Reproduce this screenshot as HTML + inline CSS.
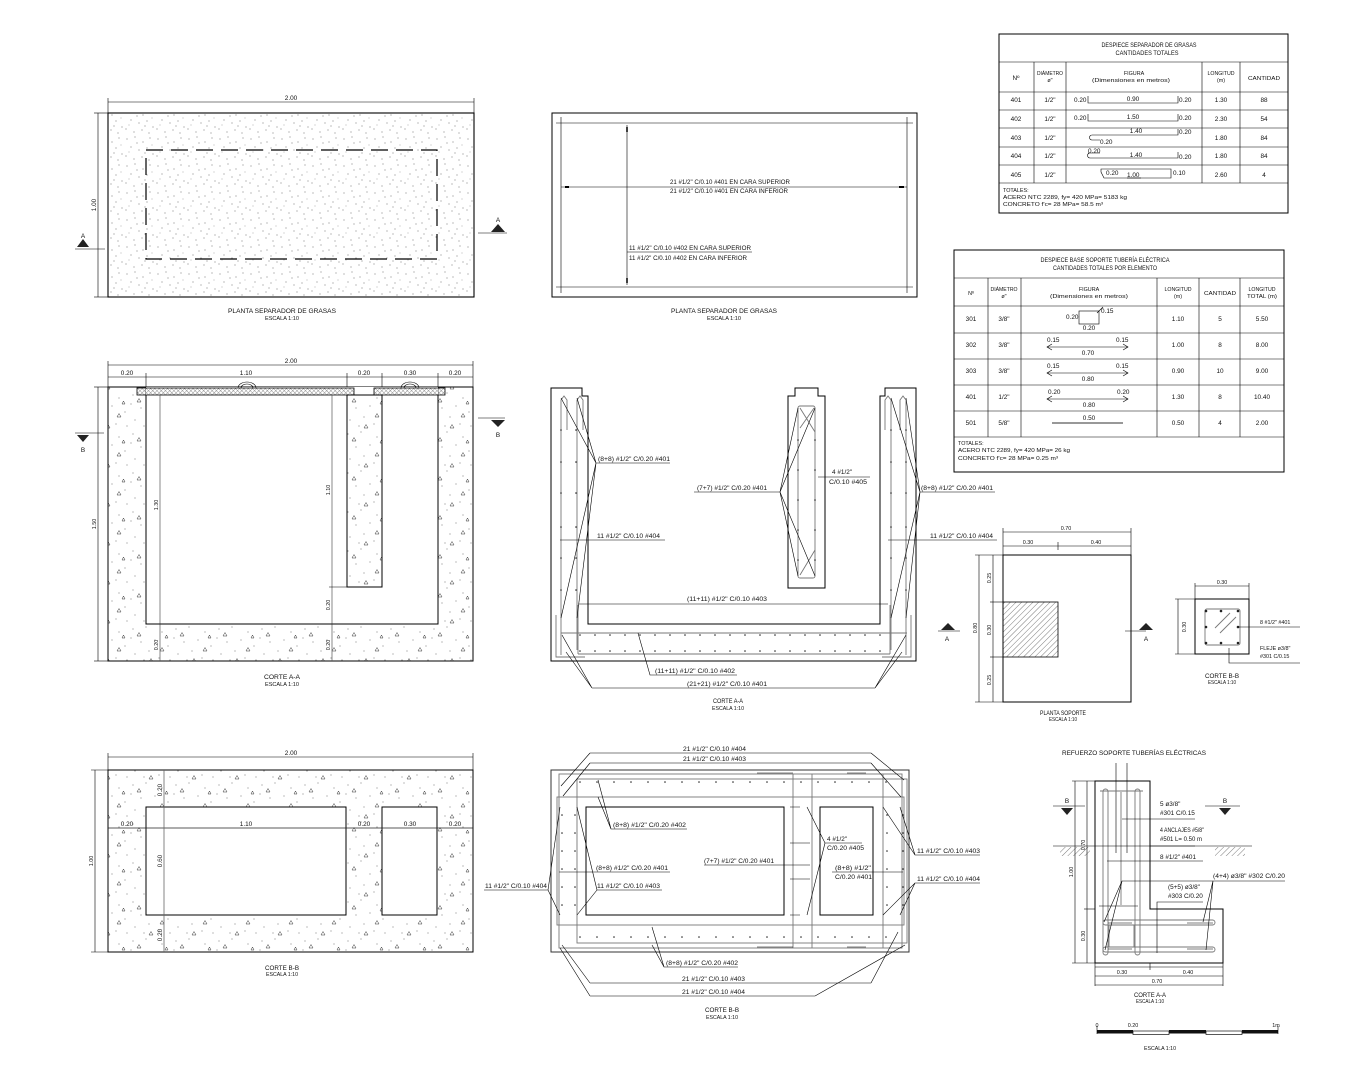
<!DOCTYPE html>
<html><head><meta charset="utf-8">
<style>
html,body{margin:0;padding:0;background:#fff;}
svg{display:block;}
text{font-family:"Liberation Sans",sans-serif;font-size:6.4px;fill:#111;}
.s{font-size:5.4px;}
.m{text-anchor:middle;}
.k{stroke:#000;stroke-width:1;fill:none;}
.t{stroke:#000;stroke-width:0.6;fill:none;}
.g{stroke:#777;stroke-width:0.9;fill:none;}
.d{fill:#222;}
</style></head><body>
<svg width="1350" height="1080" viewBox="0 0 1350 1080" xmlns="http://www.w3.org/2000/svg">
<defs>
<pattern id="st" width="31" height="27" patternUnits="userSpaceOnUse">
<g fill="#555">
<circle cx="3" cy="4" r="0.5"/><circle cx="11" cy="2" r="0.5"/><circle cx="19" cy="7" r="0.5"/><circle cx="26" cy="3" r="0.5"/>
<circle cx="7" cy="12" r="0.5"/><circle cx="15" cy="15" r="0.5"/><circle cx="23" cy="13" r="0.5"/><circle cx="29" cy="19" r="0.5"/>
<circle cx="2" cy="21" r="0.5"/><circle cx="10" cy="24" r="0.5"/><circle cx="18" cy="22" r="0.5"/><circle cx="25" cy="25" r="0.5"/>
<circle cx="13" cy="8" r="0.5"/><circle cx="21" cy="18" r="0.5"/><circle cx="5" cy="17" r="0.4"/><circle cx="28" cy="10" r="0.4"/>
</g></pattern>
<pattern id="cc" width="43" height="39" patternUnits="userSpaceOnUse">
<g fill="#555">
<circle cx="4" cy="5" r="0.5"/><circle cx="17" cy="3" r="0.5"/><circle cx="33" cy="8" r="0.5"/><circle cx="12" cy="18" r="0.5"/>
<circle cx="26" cy="16" r="0.5"/><circle cx="39" cy="22" r="0.5"/><circle cx="6" cy="30" r="0.5"/><circle cx="20" cy="27" r="0.5"/>
<circle cx="30" cy="34" r="0.5"/><circle cx="41" cy="36" r="0.5"/><circle cx="15" cy="36" r="0.5"/><circle cx="2" cy="14" r="0.5"/>
</g>
<g stroke="#333" stroke-width="0.5" fill="none">
<path d="M8,12 l2,-3.5 l2,3.5 z"/><path d="M31,27 l2,-3.5 l2,3.5 z"/><path d="M20,38 l2,-3.5 l2,3.5 z"/><path d="M36,14 l1.5,-3 l1.5,3 z"/>
</g></pattern>
<pattern id="hx" width="4" height="4" patternUnits="userSpaceOnUse" patternTransform="rotate(45)"><line x1="0" y1="0" x2="0" y2="4" stroke="#222" stroke-width="0.6"/></pattern>
<pattern id="hc" width="3" height="3" patternUnits="userSpaceOnUse" patternTransform="rotate(45)"><line x1="0" y1="0" x2="0" y2="3" stroke="#666" stroke-width="0.7"/><line x1="0" y1="0" x2="3" y2="0" stroke="#666" stroke-width="0.7"/></pattern>
</defs>

<!-- ================= TOP-LEFT PLAN ================= -->
<line class="t" x1="108" y1="102" x2="474" y2="102"/>
<line class="t" x1="108" y1="98" x2="108" y2="113"/><line class="t" x1="474" y1="98" x2="474" y2="113"/>
<text class="m" x="291" y="100">2.00</text>
<line class="t" x1="98" y1="113" x2="98" y2="297"/>
<line class="t" x1="94" y1="113" x2="108" y2="113"/><line class="t" x1="94" y1="297" x2="108" y2="297"/>
<text class="m" transform="translate(96,205) rotate(-90)">1.00</text>
<rect x="108" y="113" width="366" height="184" fill="url(#st)" stroke="#000" stroke-width="1.1"/>
<rect x="146" y="150" width="291" height="109" fill="none" stroke="#000" stroke-width="1.2" stroke-dasharray="17,8"/>
<text class="m" x="83" y="238">A</text>
<path d="M77,247 L83,239 L89,247 Z" class="d"/>
<line class="t" x1="75" y1="249" x2="105" y2="249"/>
<text class="m" x="498" y="222">A</text>
<path d="M491,232 L498,224 L505,232 Z" class="d"/>
<line class="t" x1="478" y1="233" x2="507" y2="233"/>
<text class="m" x="282" y="313" textLength="108" lengthAdjust="spacingAndGlyphs">PLANTA SEPARADOR DE GRASAS</text>
<text class="m s" x="282" y="320" textLength="34" lengthAdjust="spacingAndGlyphs">ESCALA 1:10</text>

<!-- ================= TOP-MIDDLE PLAN ================= -->
<rect x="552" y="113" width="365" height="184" class="k"/>
<line class="t" x1="556" y1="123" x2="913" y2="123"/>
<line class="t" x1="556" y1="287" x2="913" y2="287"/>
<line class="t" x1="561" y1="117" x2="561" y2="293"/>
<line class="t" x1="907" y1="117" x2="907" y2="293"/>
<line class="t" x1="561" y1="187" x2="907" y2="187"/>
<line stroke="#000" stroke-width="2" x1="565" y1="187" x2="569" y2="187"/>
<line stroke="#000" stroke-width="2" x1="899" y1="187" x2="904" y2="187"/>
<line class="t" x1="627" y1="125" x2="627" y2="285"/>
<line stroke="#000" stroke-width="1.5" x1="627" y1="127" x2="627" y2="132"/>
<line stroke="#000" stroke-width="1.5" x1="627" y1="278" x2="627" y2="283"/>
<text x="670" y="184" textLength="120" lengthAdjust="spacingAndGlyphs">21 #1/2" C/0.10 #401 EN CARA SUPERIOR</text>
<text x="670" y="193" textLength="118" lengthAdjust="spacingAndGlyphs">21 #1/2" C/0.10 #401 EN CARA INFERIOR</text>
<text x="629" y="250" textLength="122" lengthAdjust="spacingAndGlyphs">11 #1/2" C/0.10 #402 EN CARA SUPERIOR</text>
<line class="t" x1="627" y1="252" x2="752" y2="252"/>
<text x="629" y="260" textLength="118" lengthAdjust="spacingAndGlyphs">11 #1/2" C/0.10 #402 EN CARA INFERIOR</text>
<text class="m" x="724" y="313" textLength="106" lengthAdjust="spacingAndGlyphs">PLANTA SEPARADOR DE GRASAS</text>
<text class="m s" x="724" y="320" textLength="34" lengthAdjust="spacingAndGlyphs">ESCALA 1:10</text>

<!-- ================= TABLE 1 ================= -->
<rect x="999" y="34" width="289" height="179" class="k"/>
<g class="t">
<line x1="999" y1="62" x2="1288" y2="62"/>
<line x1="999" y1="92" x2="1288" y2="92"/>
<line x1="999" y1="110" x2="1288" y2="110"/>
<line x1="999" y1="128" x2="1288" y2="128"/>
<line x1="999" y1="147" x2="1288" y2="147"/>
<line x1="999" y1="165" x2="1288" y2="165"/>
<line x1="999" y1="183" x2="1288" y2="183"/>
<line x1="1034" y1="62" x2="1034" y2="183"/>
<line x1="1066" y1="62" x2="1066" y2="183"/>
<line x1="1202" y1="62" x2="1202" y2="183"/>
<line x1="1240" y1="62" x2="1240" y2="183"/>
</g>
<text class="m" x="1149" y="47" textLength="95" lengthAdjust="spacingAndGlyphs">DESPIECE SEPARADOR DE GRASAS</text>
<text class="m" x="1147" y="55" textLength="63" lengthAdjust="spacingAndGlyphs">CANTIDADES TOTALES</text>
<text class="m" x="1016" y="80">Nº</text>
<text class="m s" x="1050" y="75" textLength="26" lengthAdjust="spacingAndGlyphs">DIÁMETRO</text>
<text class="m s" x="1050" y="82">ø"</text>
<text class="m s" x="1134" y="75">FIGURA</text>
<text class="m s" x="1131" y="82" textLength="78" lengthAdjust="spacingAndGlyphs">(Dimensiones en metros)</text>
<text class="m s" x="1221" y="75" textLength="27" lengthAdjust="spacingAndGlyphs">LONGITUD</text>
<text class="m s" x="1221" y="82">(m)</text>
<text class="m s" x="1264" y="80" textLength="32" lengthAdjust="spacingAndGlyphs">CANTIDAD</text>
<g class="s">
<text class="m" x="1016" y="102">401</text><text class="m" x="1050" y="102">1/2"</text><text class="m" x="1221" y="102">1.30</text><text class="m" x="1264" y="102">88</text>
<text class="m" x="1016" y="121">402</text><text class="m" x="1050" y="121">1/2"</text><text class="m" x="1221" y="121">2.30</text><text class="m" x="1264" y="121">54</text>
<text class="m" x="1016" y="140">403</text><text class="m" x="1050" y="140">1/2"</text><text class="m" x="1221" y="140">1.80</text><text class="m" x="1264" y="140">84</text>
<text class="m" x="1016" y="158">404</text><text class="m" x="1050" y="158">1/2"</text><text class="m" x="1221" y="158">1.80</text><text class="m" x="1264" y="158">84</text>
<text class="m" x="1016" y="177">405</text><text class="m" x="1050" y="177">1/2"</text><text class="m" x="1221" y="177">2.60</text><text class="m" x="1264" y="177">4</text>
<text x="1074" y="102">0.20</text><text class="m" x="1133" y="101">0.90</text><text x="1179" y="102">0.20</text>
<text x="1074" y="120">0.20</text><text class="m" x="1133" y="119">1.50</text><text x="1179" y="120">0.20</text>
<text class="m" x="1136" y="133">1.40</text><text x="1179" y="134">0.20</text><text x="1100" y="144">0.20</text>
<text x="1088" y="153">0.20</text><text class="m" x="1136" y="157">1.40</text><text x="1179" y="159">0.20</text>
<text x="1106" y="175">0.20</text><text x="1127" y="177">1.00</text><text x="1173" y="175">0.10</text>
</g>
<path class="t" d="M1088,96 V103 H1178 V96"/>
<path class="t" d="M1088,114 V121 H1178 V114"/>
<path class="t" d="M1178,129 V135 H1092 a2.5,2.5 0 0 0 0,5 H1100"/>
<path class="t" d="M1088,153 H1100 M1090,153 a2.5,2.5 0 0 0 0,5 H1178 V152"/>
<path class="t" d="M1101,169 H1171 V178 H1104 L1101,172 Z"/>
<line class="t" x1="1127" y1="178" x2="1141" y2="178"/>
<text class="s" x="1003" y="192">TOTALES:</text>
<text class="s" x="1003" y="199" textLength="124" lengthAdjust="spacingAndGlyphs">ACERO NTC 2289, fy= 420 MPa= 5183 kg</text>
<text class="s" x="1003" y="206" textLength="100" lengthAdjust="spacingAndGlyphs">CONCRETO f'c= 28 MPa= 58.5 m³</text>

<!-- ================= TABLE 2 ================= -->
<rect x="954" y="250" width="330" height="222" class="k"/>
<g class="t">
<line x1="954" y1="278" x2="1284" y2="278"/>
<line x1="954" y1="306" x2="1284" y2="306"/>
<line x1="954" y1="333" x2="1284" y2="333"/>
<line x1="954" y1="359" x2="1284" y2="359"/>
<line x1="954" y1="385" x2="1284" y2="385"/>
<line x1="954" y1="411" x2="1284" y2="411"/>
<line x1="954" y1="437" x2="1284" y2="437"/>
<line x1="988" y1="278" x2="988" y2="437"/>
<line x1="1021" y1="278" x2="1021" y2="437"/>
<line x1="1157" y1="278" x2="1157" y2="437"/>
<line x1="1199" y1="278" x2="1199" y2="437"/>
<line x1="1240" y1="278" x2="1240" y2="437"/>
</g>
<text class="m" x="1105" y="262" textLength="129" lengthAdjust="spacingAndGlyphs">DESPIECE BASE SOPORTE TUBERÍA ELÉCTRICA</text>
<text class="m" x="1105" y="270" textLength="104" lengthAdjust="spacingAndGlyphs">CANTIDADES TOTALES POR ELEMENTO</text>
<text class="m s" x="971" y="295">Nº</text>
<text class="m s" x="1004" y="291" textLength="27" lengthAdjust="spacingAndGlyphs">DIÁMETRO</text>
<text class="m s" x="1004" y="298">ø"</text>
<text class="m s" x="1089" y="291">FIGURA</text>
<text class="m s" x="1089" y="298" textLength="78" lengthAdjust="spacingAndGlyphs">(Dimensiones en metros)</text>
<text class="m s" x="1178" y="291" textLength="27" lengthAdjust="spacingAndGlyphs">LONGITUD</text>
<text class="m s" x="1178" y="298">(m)</text>
<text class="m s" x="1220" y="295" textLength="32" lengthAdjust="spacingAndGlyphs">CANTIDAD</text>
<text class="m s" x="1262" y="291" textLength="27" lengthAdjust="spacingAndGlyphs">LONGITUD</text>
<text class="m s" x="1262" y="298" textLength="30" lengthAdjust="spacingAndGlyphs">TOTAL (m)</text>
<g class="s">
<text class="m" x="971" y="321">301</text><text class="m" x="1004" y="321">3/8"</text><text class="m" x="1178" y="321">1.10</text><text class="m" x="1220" y="321">5</text><text class="m" x="1262" y="321">5.50</text>
<text class="m" x="971" y="347">302</text><text class="m" x="1004" y="347">3/8"</text><text class="m" x="1178" y="347">1.00</text><text class="m" x="1220" y="347">8</text><text class="m" x="1262" y="347">8.00</text>
<text class="m" x="971" y="373">303</text><text class="m" x="1004" y="373">3/8"</text><text class="m" x="1178" y="373">0.90</text><text class="m" x="1220" y="373">10</text><text class="m" x="1262" y="373">9.00</text>
<text class="m" x="971" y="399">401</text><text class="m" x="1004" y="399">1/2"</text><text class="m" x="1178" y="399">1.30</text><text class="m" x="1220" y="399">8</text><text class="m" x="1262" y="399">10.40</text>
<text class="m" x="971" y="425">501</text><text class="m" x="1004" y="425">5/8"</text><text class="m" x="1178" y="425">0.50</text><text class="m" x="1220" y="425">4</text><text class="m" x="1262" y="425">2.00</text>
<text x="1066" y="319">0.20</text><text x="1101" y="313">0.15</text><text class="m" x="1089" y="330">0.20</text>
<text x="1047" y="342">0.15</text><text x="1116" y="342">0.15</text><text class="m" x="1088" y="355">0.70</text>
<text x="1047" y="368">0.15</text><text x="1116" y="368">0.15</text><text class="m" x="1088" y="381">0.80</text>
<text x="1048" y="394">0.20</text><text x="1117" y="394">0.20</text><text class="m" x="1089" y="407">0.80</text>
<text class="m" x="1089" y="420">0.50</text>
</g>
<rect x="1079" y="311" width="20" height="13" class="t"/>
<line class="t" x1="1097" y1="313" x2="1103" y2="307"/>
<path class="t" d="M1052,344 L1047,347 L1052,350 M1047,347 H1128 M1123,344 L1128,347 L1123,350"/>
<path class="t" d="M1052,370 L1047,373 L1052,376 M1047,373 H1128 M1123,370 L1128,373 L1123,376"/>
<path class="t" d="M1052,396 L1047,399 L1052,402 M1047,399 H1128 M1123,396 L1128,399 L1123,402"/>
<line x1="1052" y1="423" x2="1123" y2="423" stroke="#777" stroke-width="1.4"/>
<text class="s" x="958" y="445">TOTALES:</text>
<text class="s" x="958" y="452" textLength="112" lengthAdjust="spacingAndGlyphs">ACERO NTC 2289, fy= 420 MPa= 26 kg</text>
<text class="s" x="958" y="460" textLength="100" lengthAdjust="spacingAndGlyphs">CONCRETO f'c= 28 MPa= 0.25 m³</text>

<!-- ================= CORTE A-A LEFT ================= -->
<line class="t" x1="108" y1="365" x2="473" y2="365"/>
<text class="m" x="291" y="363">2.00</text>
<line class="t" x1="108" y1="377" x2="473" y2="377"/>
<g class="t">
<line x1="108" y1="361" x2="108" y2="387"/><line x1="473" y1="361" x2="473" y2="387"/>
<line x1="146" y1="373" x2="146" y2="395"/><line x1="347" y1="373" x2="347" y2="395"/>
<line x1="382" y1="373" x2="382" y2="395"/><line x1="438" y1="373" x2="438" y2="395"/>
</g>
<g class="s">
<text class="m" x="127" y="375">0.20</text><text class="m" x="246" y="375">1.10</text><text class="m" x="364" y="375">0.20</text>
<text class="m" x="410" y="375">0.30</text><text class="m" x="455" y="375">0.20</text>
</g>
<rect x="108" y="387" width="365" height="274" fill="url(#cc)" stroke="#000" stroke-width="1"/>
<rect x="146" y="387" width="292" height="237" fill="#fff"/>
<path class="k" d="M146,395 V624 H438 V395"/>
<rect x="347" y="395" width="35" height="192" fill="url(#cc)" stroke="#000" stroke-width="1"/>
<rect x="137" y="388" width="217" height="7" fill="url(#hc)" stroke="#000" stroke-width="0.8"/>
<rect x="374" y="388" width="71" height="7" fill="url(#hc)" stroke="#000" stroke-width="0.8"/>
<path class="t" d="M238,388 A9,6 0 0 1 256,388 M241,388 A6,4 0 0 1 253,388"/>
<path class="t" d="M401,388 A9,6 0 0 1 419,388 M404,388 A6,4 0 0 1 416,388"/>
<line class="t" x1="98" y1="387" x2="98" y2="661"/>
<line class="t" x1="94" y1="387" x2="108" y2="387"/><line class="t" x1="94" y1="661" x2="108" y2="661"/>
<text class="m s" transform="translate(96,524) rotate(-90)">1.50</text>
<line x1="160" y1="395" x2="160" y2="661" stroke="#555" stroke-width="0.7"/>
<line class="t" x1="157" y1="624" x2="164" y2="624"/>
<text class="m s" transform="translate(158,505) rotate(-90)">1.30</text>
<text class="m s" transform="translate(158,645) rotate(-90)">0.20</text>
<line x1="332" y1="395" x2="332" y2="661" stroke="#555" stroke-width="0.7"/>
<line class="t" x1="329" y1="587" x2="347" y2="587"/><line class="t" x1="329" y1="624" x2="336" y2="624"/>
<text class="m s" transform="translate(330,490) rotate(-90)">1.10</text>
<text class="m s" transform="translate(330,605) rotate(-90)">0.20</text>
<text class="m s" transform="translate(330,645) rotate(-90)">0.20</text>
<line class="t" x1="75" y1="433" x2="104" y2="433"/>
<path d="M77,435 L89,435 L83,442 Z" class="d"/>
<text class="m" x="83" y="452">B</text>
<line class="t" x1="478" y1="418" x2="505" y2="418"/>
<path d="M491,420 L505,420 L498,427 Z" class="d"/>
<text class="m" x="498" y="437">B</text>
<text class="m" x="282" y="679" textLength="36" lengthAdjust="spacingAndGlyphs">CORTE A-A</text>
<text class="m s" x="282" y="686" textLength="34" lengthAdjust="spacingAndGlyphs">ESCALA 1:10</text>

<!-- ================= CORTE A-A MIDDLE ================= -->
<path class="k" d="M588,624 V396 H582 V388 H551 V661 H916 V388 H885 V396 H880 V624 Z"/>
<path class="k" d="M788,396 H795 V388 H818 V396 H825 V588 H788 Z"/>
<g class="g">
<path d="M561,655 V400 l3,-4 l3,4 V430"/>
<path d="M577,650 V400 l3,-4 l3,4 V430"/>
<path d="M906,655 V400 l-3,-4 l-3,4 V430"/>
<path d="M891,650 V400 l-3,-4 l-3,4 V430"/>
<line x1="561" y1="633" x2="907" y2="633"/>
<line x1="578" y1="654" x2="890" y2="654"/>
<path d="M556,615 V657 H585"/>
<path d="M911,615 V657 H882"/>
<path d="M578,605 V654"/><path d="M890,605 V654"/>
<rect x="798" y="406" width="17" height="172" rx="2"/>
<path d="M800,408 L815,432 M814,408 L800,428 M800,575 L815,550"/>
</g>
<g class="d">
<circle cx="561" cy="430" r="0.8"/><circle cx="561" cy="462" r="0.8"/><circle cx="561" cy="493" r="0.8"/><circle cx="561" cy="527" r="0.8"/><circle cx="561" cy="558" r="0.8"/><circle cx="561" cy="590" r="0.8"/>
<circle cx="576" cy="430" r="0.8"/><circle cx="576" cy="462" r="0.8"/><circle cx="576" cy="493" r="0.8"/><circle cx="576" cy="527" r="0.8"/><circle cx="576" cy="558" r="0.8"/><circle cx="576" cy="590" r="0.8"/>
<circle cx="906" cy="430" r="0.8"/><circle cx="906" cy="462" r="0.8"/><circle cx="906" cy="493" r="0.8"/><circle cx="906" cy="527" r="0.8"/><circle cx="906" cy="558" r="0.8"/><circle cx="906" cy="590" r="0.8"/>
<circle cx="891" cy="430" r="0.8"/><circle cx="891" cy="462" r="0.8"/><circle cx="891" cy="493" r="0.8"/><circle cx="891" cy="527" r="0.8"/><circle cx="891" cy="558" r="0.8"/><circle cx="891" cy="590" r="0.8"/>
<circle cx="798" cy="440" r="0.8"/><circle cx="798" cy="470" r="0.8"/><circle cx="798" cy="500" r="0.8"/><circle cx="798" cy="530" r="0.8"/><circle cx="798" cy="560" r="0.8"/>
<circle cx="815" cy="440" r="0.8"/><circle cx="815" cy="470" r="0.8"/><circle cx="815" cy="500" r="0.8"/><circle cx="815" cy="530" r="0.8"/><circle cx="815" cy="560" r="0.8"/>
</g>
<g fill="#222">
<circle cx="580" cy="635" r="0.8"/><circle cx="595" cy="635" r="0.8"/><circle cx="610" cy="635" r="0.8"/><circle cx="625" cy="635" r="0.8"/><circle cx="640" cy="635" r="0.8"/><circle cx="655" cy="635" r="0.8"/><circle cx="670" cy="635" r="0.8"/><circle cx="685" cy="635" r="0.8"/><circle cx="700" cy="635" r="0.8"/><circle cx="715" cy="635" r="0.8"/><circle cx="730" cy="635" r="0.8"/><circle cx="745" cy="635" r="0.8"/><circle cx="760" cy="635" r="0.8"/><circle cx="775" cy="635" r="0.8"/><circle cx="790" cy="635" r="0.8"/><circle cx="805" cy="635" r="0.8"/><circle cx="820" cy="635" r="0.8"/><circle cx="835" cy="635" r="0.8"/><circle cx="850" cy="635" r="0.8"/><circle cx="865" cy="635" r="0.8"/><circle cx="880" cy="635" r="0.8"/>
<circle cx="580" cy="651" r="0.8"/><circle cx="595" cy="651" r="0.8"/><circle cx="610" cy="651" r="0.8"/><circle cx="625" cy="651" r="0.8"/><circle cx="640" cy="651" r="0.8"/><circle cx="655" cy="651" r="0.8"/><circle cx="670" cy="651" r="0.8"/><circle cx="685" cy="651" r="0.8"/><circle cx="700" cy="651" r="0.8"/><circle cx="715" cy="651" r="0.8"/><circle cx="730" cy="651" r="0.8"/><circle cx="745" cy="651" r="0.8"/><circle cx="760" cy="651" r="0.8"/><circle cx="775" cy="651" r="0.8"/><circle cx="790" cy="651" r="0.8"/><circle cx="805" cy="651" r="0.8"/><circle cx="820" cy="651" r="0.8"/><circle cx="835" cy="651" r="0.8"/><circle cx="850" cy="651" r="0.8"/><circle cx="865" cy="651" r="0.8"/><circle cx="880" cy="651" r="0.8"/>
</g>
<g class="t">
<path d="M670,463 H596 L561,398 M596,463 L577,398 M596,463 L561,618 M596,463 L577,618"/>
<path d="M694,492 H780 L798,408 M780,492 L815,408 M780,492 L798,576 M780,492 L815,576"/>
<path d="M995,492 H920 L906,398 M920,492 L891,398 M920,492 L906,618 M920,492 L891,618"/>
<line x1="818" y1="477" x2="870" y2="477"/>
<line x1="560" y1="540" x2="665" y2="540"/>
<line x1="888" y1="540" x2="997" y2="540"/>
<line x1="579" y1="604" x2="888" y2="604"/>
<path d="M737,675 H650 L638,633"/>
<path d="M592,688 H875 M592,688 L562,635 M592,688 L566,652 M875,688 L906,635 M875,688 L902,652"/>
</g>
<text x="598" y="461" textLength="72" lengthAdjust="spacingAndGlyphs">(8+8) #1/2" C/0.20 #401</text>
<text x="697" y="490" textLength="70" lengthAdjust="spacingAndGlyphs">(7+7) #1/2" C/0.20 #401</text>
<text x="832" y="474">4 #1/2"</text>
<text x="829" y="484" textLength="38" lengthAdjust="spacingAndGlyphs">C/0.10 #405</text>
<text x="921" y="490" textLength="72" lengthAdjust="spacingAndGlyphs">(8+8) #1/2" C/0.20 #401</text>
<text x="597" y="538" textLength="63" lengthAdjust="spacingAndGlyphs">11 #1/2" C/0.10 #404</text>
<text x="930" y="538" textLength="63" lengthAdjust="spacingAndGlyphs">11 #1/2" C/0.10 #404</text>
<text x="687" y="601" textLength="80" lengthAdjust="spacingAndGlyphs">(11+11) #1/2" C/0.10 #403</text>
<text x="655" y="673" textLength="80" lengthAdjust="spacingAndGlyphs">(11+11) #1/2" C/0.10 #402</text>
<text x="687" y="686" textLength="80" lengthAdjust="spacingAndGlyphs">(21+21) #1/2" C/0.10 #401</text>
<text class="m" x="728" y="703" textLength="30" lengthAdjust="spacingAndGlyphs">CORTE A-A</text>
<text class="m s" x="728" y="710" textLength="32" lengthAdjust="spacingAndGlyphs">ESCALA 1:10</text>

<!-- ================= PLANTA SOPORTE ================= -->
<line class="t" x1="1003" y1="532" x2="1131" y2="532"/>
<line class="t" x1="1003" y1="546" x2="1131" y2="546"/>
<line class="t" x1="1003" y1="528" x2="1003" y2="555"/><line class="t" x1="1131" y1="528" x2="1131" y2="555"/>
<line class="t" x1="1058" y1="542" x2="1058" y2="550"/>
<text class="m s" x="1066" y="530">0.70</text>
<text class="m s" x="1028" y="544">0.30</text>
<text class="m s" x="1096" y="544">0.40</text>
<rect x="1003" y="555" width="128" height="147" class="k"/>
<rect x="1003" y="602" width="55" height="55" fill="url(#hx)" stroke="#000" stroke-width="0.8"/>
<line class="t" x1="979" y1="555" x2="979" y2="702"/>
<line class="t" x1="975" y1="555" x2="1003" y2="555"/><line class="t" x1="975" y1="702" x2="1003" y2="702"/>
<line class="t" x1="993" y1="555" x2="993" y2="702"/>
<line class="t" x1="990" y1="602" x2="1003" y2="602"/><line class="t" x1="990" y1="657" x2="1003" y2="657"/>
<text class="m s" transform="translate(977,628) rotate(-90)">0.80</text>
<text class="m s" transform="translate(991,578) rotate(-90)">0.25</text>
<text class="m s" transform="translate(991,630) rotate(-90)">0.30</text>
<text class="m s" transform="translate(991,680) rotate(-90)">0.25</text>
<path d="M941,630 L948,623 L955,630 Z" class="d"/>
<line class="t" x1="938" y1="631" x2="960" y2="631"/>
<text class="m" x="947" y="641">A</text>
<path d="M1139,630 L1146,623 L1153,630 Z" class="d"/>
<line class="t" x1="1125" y1="631" x2="1146" y2="631"/>
<text class="m" x="1146" y="641">A</text>
<text class="m" x="1063" y="715" textLength="46" lengthAdjust="spacingAndGlyphs">PLANTA SOPORTE</text>
<text class="m s" x="1063" y="721" textLength="28" lengthAdjust="spacingAndGlyphs">ESCALA 1:10</text>

<!-- ================= CORTE B-B SMALL ================= -->
<line class="t" x1="1195" y1="586" x2="1249" y2="586"/>
<line class="t" x1="1195" y1="583" x2="1195" y2="599"/><line class="t" x1="1249" y1="583" x2="1249" y2="599"/>
<text class="m s" x="1222" y="584">0.30</text>
<line class="t" x1="1178" y1="599" x2="1178" y2="654"/>
<line class="t" x1="1175" y1="599" x2="1195" y2="599"/><line class="t" x1="1175" y1="654" x2="1195" y2="654"/>
<text class="m s" transform="translate(1186,627) rotate(-90)">0.30</text>
<rect x="1195" y="599" width="54" height="55" class="k"/>
<rect x="1205" y="609" width="35" height="36" rx="2" class="g"/>
<line class="g" x1="1215" y1="628" x2="1230" y2="613"/><line class="g" x1="1220" y1="633" x2="1236" y2="617"/>
<g class="d">
<circle cx="1206" cy="611" r="1.3"/><circle cx="1221" cy="611" r="1.3"/><circle cx="1238" cy="611" r="1.3"/>
<circle cx="1206" cy="627" r="1.3"/><circle cx="1238" cy="627" r="1.3"/>
<circle cx="1206" cy="643" r="1.3"/><circle cx="1221" cy="643" r="1.3"/><circle cx="1238" cy="643" r="1.3"/>
</g>
<line class="t" x1="1238" y1="627" x2="1300" y2="627"/>
<text class="s" x="1260" y="624">8 #1/2" #401</text>
<path class="t" d="M1229,648 V663 H1300"/>
<text class="s" x="1260" y="650">FLEJE ø3/8"</text>
<text class="s" x="1260" y="658">#301 C/0.15</text>
<text class="m" x="1222" y="678" textLength="34" lengthAdjust="spacingAndGlyphs">CORTE B-B</text>
<text class="m s" x="1222" y="684" textLength="28" lengthAdjust="spacingAndGlyphs">ESCALA 1:10</text>

<!-- ================= CORTE B-B LEFT ================= -->
<line class="t" x1="108" y1="757" x2="473" y2="757"/>
<line class="t" x1="108" y1="753" x2="108" y2="770"/><line class="t" x1="473" y1="753" x2="473" y2="770"/>
<text class="m" x="291" y="755">2.00</text>
<rect x="108" y="770" width="365" height="182" fill="url(#cc)" stroke="#000" stroke-width="1"/>
<rect x="146" y="807" width="200" height="108" style="fill:#fff;stroke:#000;stroke-width:1"/>
<rect x="382" y="807" width="55" height="108" style="fill:#fff;stroke:#000;stroke-width:1"/>
<line x1="108" y1="828" x2="473" y2="828" stroke="#222" stroke-width="0.7"/>
<line x1="164" y1="770" x2="164" y2="952" stroke="#666" stroke-width="0.8"/>
<g class="s">
<text class="m" x="127" y="826">0.20</text><text class="m" x="246" y="826">1.10</text><text class="m" x="364" y="826">0.20</text>
<text class="m" x="410" y="826">0.30</text><text class="m" x="455" y="826">0.20</text>
<text class="m" transform="translate(162,790) rotate(-90)">0.20</text>
<text class="m" transform="translate(162,861) rotate(-90)">0.60</text>
<text class="m" transform="translate(162,935) rotate(-90)">0.20</text>
</g>
<line class="t" x1="95" y1="770" x2="95" y2="952"/>
<line class="t" x1="91" y1="770" x2="108" y2="770"/><line class="t" x1="91" y1="952" x2="108" y2="952"/>
<text class="m s" transform="translate(93,861) rotate(-90)">1.00</text>
<text class="m" x="282" y="970" textLength="34" lengthAdjust="spacingAndGlyphs">CORTE B-B</text>
<text class="m s" x="282" y="976" textLength="32" lengthAdjust="spacingAndGlyphs">ESCALA 1:10</text>

<!-- ================= CORTE B-B MIDDLE ================= -->
<rect x="551" y="770" width="358" height="182" fill="none" stroke="#333" stroke-width="1"/>
<g class="g">
<rect x="559" y="774" width="343" height="174"/>
<rect x="577" y="779" width="330" height="164"/>
<rect x="557" y="797" width="347" height="128"/>
<line x1="793" y1="774" x2="793" y2="948"/>
<line x1="812" y1="774" x2="812" y2="948"/>
<line x1="883" y1="774" x2="883" y2="948"/>
</g>
<g class="t">
<path d="M757,773 H793 M757,947 H793 M847,773 H866 M847,947 H866"/>
<path d="M790,807 H800 M790,915 H800 M790,843 H810 M790,879 H810"/>
</g>
<rect x="586" y="807" width="198" height="108" class="k"/>
<rect x="820" y="807" width="53" height="108" class="k"/>
<g fill="#222">
<circle cx="580" cy="782" r="0.8"/><circle cx="597" cy="782" r="0.8"/><circle cx="614" cy="782" r="0.8"/><circle cx="631" cy="782" r="0.8"/><circle cx="648" cy="782" r="0.8"/><circle cx="665" cy="782" r="0.8"/><circle cx="682" cy="782" r="0.8"/><circle cx="699" cy="782" r="0.8"/><circle cx="716" cy="782" r="0.8"/><circle cx="733" cy="782" r="0.8"/><circle cx="750" cy="782" r="0.8"/><circle cx="767" cy="782" r="0.8"/><circle cx="784" cy="782" r="0.8"/><circle cx="801" cy="782" r="0.8"/><circle cx="818" cy="782" r="0.8"/><circle cx="835" cy="782" r="0.8"/><circle cx="852" cy="782" r="0.8"/><circle cx="869" cy="782" r="0.8"/><circle cx="886" cy="782" r="0.8"/>
<circle cx="580" cy="937" r="0.8"/><circle cx="597" cy="937" r="0.8"/><circle cx="614" cy="937" r="0.8"/><circle cx="631" cy="937" r="0.8"/><circle cx="648" cy="937" r="0.8"/><circle cx="665" cy="937" r="0.8"/><circle cx="682" cy="937" r="0.8"/><circle cx="699" cy="937" r="0.8"/><circle cx="716" cy="937" r="0.8"/><circle cx="733" cy="937" r="0.8"/><circle cx="750" cy="937" r="0.8"/><circle cx="767" cy="937" r="0.8"/><circle cx="784" cy="937" r="0.8"/><circle cx="801" cy="937" r="0.8"/><circle cx="818" cy="937" r="0.8"/><circle cx="835" cy="937" r="0.8"/><circle cx="852" cy="937" r="0.8"/><circle cx="869" cy="937" r="0.8"/><circle cx="886" cy="937" r="0.8"/>
<circle cx="562" cy="815" r="0.8"/><circle cx="562" cy="833" r="0.8"/><circle cx="562" cy="851" r="0.8"/><circle cx="562" cy="869" r="0.8"/><circle cx="562" cy="887" r="0.8"/><circle cx="562" cy="905" r="0.8"/>
<circle cx="575" cy="815" r="0.8"/><circle cx="575" cy="833" r="0.8"/><circle cx="575" cy="851" r="0.8"/><circle cx="575" cy="869" r="0.8"/><circle cx="575" cy="887" r="0.8"/><circle cx="575" cy="905" r="0.8"/>
<circle cx="887" cy="815" r="0.8"/><circle cx="887" cy="833" r="0.8"/><circle cx="887" cy="851" r="0.8"/><circle cx="887" cy="869" r="0.8"/><circle cx="887" cy="887" r="0.8"/><circle cx="887" cy="905" r="0.8"/>
<circle cx="903" cy="815" r="0.8"/><circle cx="903" cy="833" r="0.8"/><circle cx="903" cy="851" r="0.8"/><circle cx="903" cy="869" r="0.8"/><circle cx="903" cy="887" r="0.8"/><circle cx="903" cy="905" r="0.8"/>
</g>
<g class="t">
<path d="M590,753 H871 M590,753 L561,786 M871,753 L904,780"/>
<path d="M590,763 H871 M590,763 L563,796 M871,763 L901,797"/>
<path d="M687,829 H611 L598,780 M611,829 L598,797"/>
<path d="M559,872 H670"/>
<path d="M662,890 H597 L577,807 M597,890 L577,915"/>
<path d="M484,890 H548 L560,807 M548,890 L560,915"/>
<path d="M704,865 H810"/>
<path d="M862,843 H825 L807,807 M825,843 L807,915"/>
<path d="M832,872 H903"/>
<path d="M980,855 H915 L883,807 M915,855 L900,807"/>
<path d="M980,883 H915 L883,915 M915,883 L900,915"/>
<path d="M738,967 H664 L652,927 M664,967 L652,945"/>
<path d="M590,983 H871 M590,983 L562,945 M871,983 L898,932"/>
<path d="M590,996 H815 M590,996 L560,948 M815,996 L905,945"/>
</g>
<text x="683" y="751" textLength="63" lengthAdjust="spacingAndGlyphs">21 #1/2" C/0.10 #404</text>
<text x="683" y="761" textLength="63" lengthAdjust="spacingAndGlyphs">21 #1/2" C/0.10 #403</text>
<text x="613" y="827" textLength="73" lengthAdjust="spacingAndGlyphs">(8+8) #1/2" C/0.20 #402</text>
<text x="596" y="870" textLength="72" lengthAdjust="spacingAndGlyphs">(8+8) #1/2" C/0.20 #401</text>
<text x="597" y="888" textLength="63" lengthAdjust="spacingAndGlyphs">11 #1/2" C/0.10 #403</text>
<text x="704" y="863" textLength="70" lengthAdjust="spacingAndGlyphs">(7+7) #1/2" C/0.20 #401</text>
<text x="827" y="841">4 #1/2"</text>
<text x="827" y="850" textLength="37" lengthAdjust="spacingAndGlyphs">C/0.20 #405</text>
<text x="835" y="870" textLength="36" lengthAdjust="spacingAndGlyphs">(8+8) #1/2"</text>
<text x="835" y="879" textLength="37" lengthAdjust="spacingAndGlyphs">C/0.20 #401</text>
<text x="917" y="853" textLength="63" lengthAdjust="spacingAndGlyphs">11 #1/2" C/0.10 #403</text>
<text x="917" y="881" textLength="63" lengthAdjust="spacingAndGlyphs">11 #1/2" C/0.10 #404</text>
<text x="485" y="888" textLength="62" lengthAdjust="spacingAndGlyphs">11 #1/2" C/0.10 #404</text>
<text x="666" y="965" textLength="72" lengthAdjust="spacingAndGlyphs">(8+8) #1/2" C/0.20 #402</text>
<text x="682" y="981" textLength="63" lengthAdjust="spacingAndGlyphs">21 #1/2" C/0.10 #403</text>
<text x="682" y="994" textLength="63" lengthAdjust="spacingAndGlyphs">21 #1/2" C/0.10 #404</text>
<text class="m" x="722" y="1012" textLength="34" lengthAdjust="spacingAndGlyphs">CORTE B-B</text>
<text class="m s" x="722" y="1019" textLength="32" lengthAdjust="spacingAndGlyphs">ESCALA 1:10</text>

<!-- ================= REFUERZO SOPORTE ================= -->
<text x="1062" y="755" textLength="144" lengthAdjust="spacingAndGlyphs">REFUERZO SOPORTE TUBERÍAS ELÉCTRICAS</text>
<path class="k" d="M1095,781 H1150 V909 H1223 V963 H1095 Z" stroke-width="0.8"/>
<line class="t" x1="1116" y1="763" x2="1116" y2="853"/>
<line class="t" x1="1127" y1="763" x2="1127" y2="853"/>
<g class="g">
<rect x="1103" y="789" width="5" height="166" rx="2.5"/>
<rect x="1135" y="789" width="5" height="166" rx="2.5"/>
<line x1="1100" y1="791" x2="1143" y2="791"/>
<line x1="1121" y1="792" x2="1121" y2="905"/>
<rect x="1103" y="920" width="112" height="5" rx="2.5"/>
<rect x="1103" y="947" width="112" height="5" rx="2.5"/>
<line x1="1109" y1="925" x2="1109" y2="947"/>
<line x1="1134" y1="925" x2="1134" y2="947"/>
</g>
<g class="t">
<line x1="1099" y1="906" x2="1138" y2="906"/>
<line x1="1108" y1="923" x2="1132" y2="923"/>
<line x1="1108" y1="949" x2="1132" y2="949"/>
<line x1="1187" y1="923" x2="1213" y2="923"/>
<line x1="1187" y1="949" x2="1213" y2="949"/>
</g>
<line class="t" x1="1053" y1="846" x2="1252" y2="846"/>
<rect x="1060" y="847" width="30" height="9" fill="url(#hx)"/>
<rect x="1215" y="847" width="30" height="9" fill="url(#hx)"/>
<line class="t" x1="1053" y1="806" x2="1085" y2="806"/>
<path d="M1061,808 L1073,808 L1067,815 Z" class="d"/>
<text class="m" x="1067" y="803">B</text>
<line class="t" x1="1205" y1="806" x2="1240" y2="806"/>
<path d="M1219,808 L1231,808 L1225,815 Z" class="d"/>
<text class="m" x="1225" y="803">B</text>
<line class="t" x1="1075" y1="781" x2="1075" y2="963"/>
<line class="t" x1="1072" y1="781" x2="1095" y2="781"/><line class="t" x1="1072" y1="963" x2="1095" y2="963"/>
<line class="t" x1="1087" y1="781" x2="1087" y2="963"/>
<line class="t" x1="1084" y1="909" x2="1095" y2="909"/>
<text class="m s" transform="translate(1073,872) rotate(-90)">1.00</text>
<text class="m s" transform="translate(1085,845) rotate(-90)">0.70</text>
<text class="m s" transform="translate(1085,936) rotate(-90)">0.30</text>
<line class="t" x1="1095" y1="967" x2="1223" y2="967"/>
<line class="t" x1="1150" y1="963" x2="1150" y2="970"/>
<line class="t" x1="1095" y1="976" x2="1223" y2="976"/>
<line class="t" x1="1095" y1="963" x2="1095" y2="986"/><line class="t" x1="1223" y1="963" x2="1223" y2="986"/>
<line class="t" x1="1095" y1="985" x2="1223" y2="985"/>
<text class="m s" x="1122" y="974">0.30</text>
<text class="m s" x="1188" y="974">0.40</text>
<text class="m s" x="1157" y="983">0.70</text>
<g class="t">
<line x1="1122" y1="819" x2="1195" y2="819"/>
<line x1="1107" y1="861" x2="1203" y2="861"/>
<path d="M1285,881 H1122 L1104,922 M1122,881 L1105,950"/>
<path d="M1213,881 L1203,922 M1213,881 L1206,950"/>
<path d="M1203,902 H1157 V953"/>
<line x1="1150" y1="846" x2="1195" y2="846"/>
</g>
<g class="s">
<text x="1160" y="806">5 ø3/8"</text>
<text x="1160" y="815">#301 C/0.15</text>
<text x="1160" y="832" textLength="44" lengthAdjust="spacingAndGlyphs">4 ANCLAJES #5/8"</text>
<text x="1160" y="841" textLength="42" lengthAdjust="spacingAndGlyphs">#501 L= 0.50 m</text>
<text x="1160" y="859">8 #1/2" #401</text>
<text x="1213" y="878" textLength="72" lengthAdjust="spacingAndGlyphs">(4+4) ø3/8" #302 C/0.20</text>
<text x="1168" y="889">(5+5) ø3/8"</text>
<text x="1168" y="898">#303 C/0.20</text>
</g>
<text class="m" x="1150" y="997" textLength="32" lengthAdjust="spacingAndGlyphs">CORTE A-A</text>
<text class="m s" x="1150" y="1003" textLength="28" lengthAdjust="spacingAndGlyphs">ESCALA 1:10</text>
<rect x="1097" y="1030" width="36" height="3.5" fill="#111"/>
<rect x="1133" y="1031" width="36" height="3.5" fill="#fff" stroke="#111" stroke-width="0.7"/>
<rect x="1169" y="1030" width="37" height="3.5" fill="#111"/>
<rect x="1206" y="1031" width="36" height="3.5" fill="#fff" stroke="#111" stroke-width="0.7"/>
<rect x="1242" y="1030" width="36" height="3.5" fill="#111"/>
<line class="t" x1="1097" y1="1026" x2="1097" y2="1034"/><line class="t" x1="1278" y1="1026" x2="1278" y2="1034"/>
<text class="m s" x="1097" y="1027">0</text>
<text class="m s" x="1133" y="1027">0.20</text>
<text class="m s" x="1276" y="1027">1m</text>
<text class="m s" x="1160" y="1050" textLength="32" lengthAdjust="spacingAndGlyphs">ESCALA 1:10</text>
</svg>
</body></html>
